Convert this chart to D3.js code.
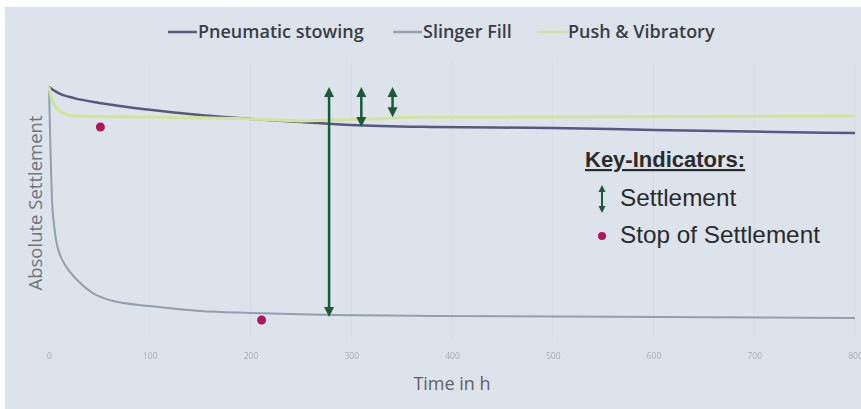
<!DOCTYPE html>
<html>
<head>
<meta charset="utf-8">
<script src="https://cdn.jsdelivr.net/npm/d3@7"></script>
<style>
  body { margin: 0; background: #fff; }
  svg { display: block; }
</style>
</head>
<body>
<div class="main"></div>
<script>
// series (time in h, settlement with start = 100)
const seriesNames = ["Pneumatic stowing", "Slinger Fill", "Push & Vibratory"];

const pneumaticHours = [0, 5, 10, 25, 50, 100, 150, 200, 250, 300, 380, 500, 600, 800];
const pneumaticValues = [100, 98.6, 97.5, 95.6, 93.7, 91.0, 88.9, 87.4, 86.2, 85.0, 84.2, 83.8, 83.0, 81.8];

const slingerHours = [0, 1, 2, 3, 5, 7, 11, 16, 28, 43, 60, 100, 150, 200, 280, 380, 800];
const slingerValues = [100, 83.0, 67.2, 55.3, 45.5, 39.5, 33.6, 29.6, 23.7, 18.6, 15.8, 13.4, 11.5, 10.7, 9.9, 9.5, 8.7];

const pushHours = [0, 3, 7, 14, 26, 100, 200, 250, 290, 380, 800];
const pushValues = [100, 94.9, 91.7, 89.7, 88.5, 88.1, 87.4, 86.6, 87.0, 88.1, 88.5];

const xTicks = [0, 100, 200, 300, 400, 500, 600, 700, 800];

// settlement arrows and stop-of-settlement dots
const arrowHours = [278, 310, 341];
const arrowTop = [100, 100, 100];
const arrowBottom = [9.1, 84.2, 88.0];

const stopHours = [51, 211];
const stopValues = [84.2, 7.9];

const keyTitle = "Key-Indicators:";
const keyLabels = ["Settlement", "Stop of Settlement"];

const W = 861, H = 409;
const colors = ["#575883", "#909fb2", "#d2e39a"];
const widths = [2.5, 2, 3];
const green = "#1c5a36";
const magenta = "#b3125f";

const svg = d3.select(".main").append("svg")
    .attr("width", W)
    .attr("height", H);

const defs = svg.append("defs");
defs.append("filter").attr("id", "soft")
    .append("feGaussianBlur").attr("stdDeviation", 0.5);
defs.append("filter").attr("id", "blur")
    .append("feGaussianBlur").attr("stdDeviation", 0.6);

// panel
svg.append("rect")
    .attr("x", 5).attr("y", 7)
    .attr("width", W - 5).attr("height", H - 7)
    .attr("fill", "#dce3ea");

const x = d3.scaleLinear().domain([0, 800]).range([49, 855]);
const y = d3.scaleLinear().domain([0, 100]).range([340, 87]);

// faint vertical grid
svg.append("g").selectAll("line")
    .data(xTicks.slice(1))
    .enter().append("line")
    .attr("x1", d => x(d)).attr("x2", d => x(d))
    .attr("y1", 60).attr("y2", 340)
    .attr("stroke", "#d5dde5")
    .attr("stroke-width", 1);

// x axis labels
const xAxis = d3.axisBottom(x).tickValues(xTicks).tickSize(0).tickPadding(0);
const gx = svg.append("g")
    .attr("transform", "translate(0,353)")
    .call(xAxis);
gx.select(".domain").remove();
gx.selectAll("text")
    .attr("font-family", "Open Sans, sans-serif")
    .attr("font-size", 8.5)
    .attr("fill", "#a4acb6")
    .attr("filter", "url(#blur)");

svg.append("text")
    .attr("x", 452).attr("y", 390)
    .attr("text-anchor", "middle")
    .attr("font-family", "Open Sans, sans-serif")
    .attr("font-size", 18)
    .attr("fill", "#5d6268")
    .text("Time in h");

svg.append("text")
    .attr("transform", "translate(42,203) rotate(-90)")
    .attr("text-anchor", "middle")
    .attr("font-family", "Open Sans, sans-serif")
    .attr("font-size", 18.5)
    .attr("fill", "#6f757c")
    .text("Absolute Settlement");

// lines
const line = d3.line()
    .x(d => x(d[0]))
    .y(d => y(d[1]))
    .curve(d3.curveMonotoneX);

const series = [
    d3.zip(pneumaticHours, pneumaticValues),
    d3.zip(slingerHours, slingerValues),
    d3.zip(pushHours, pushValues)
];

// draw slinger first, then pneumatic, push on top
[1, 0, 2].forEach(i => {
    svg.append("path")
        .datum(series[i])
        .attr("d", line)
        .attr("fill", "none")
        .attr("stroke", colors[i])
        .attr("stroke-width", widths[i])
        .attr("filter", "url(#soft)");
});

// legend at top
const legendX = [168, 393, 538];
const legend = svg.append("g").selectAll("g")
    .data(seriesNames)
    .enter().append("g")
    .attr("transform", (d, i) => "translate(" + legendX[i] + ",32)");

legend.append("line")
    .attr("x1", 0).attr("x2", 29)
    .attr("stroke", (d, i) => colors[i])
    .attr("stroke-width", 2.5);

legend.append("text")
    .attr("x", 30).attr("y", 6)
    .attr("font-family", "Open Sans, sans-serif")
    .attr("font-weight", 600)
    .attr("font-size", 18)
    .attr("fill", "#3a3d44")
    .text(d => d);

// double-headed arrow helper
const drawArrow = function (g, cx, y1, y2, head, stroke) {
    g.append("line")
        .attr("x1", cx).attr("x2", cx)
        .attr("y1", y1 + head * 0.8).attr("y2", y2 - head * 0.8)
        .attr("stroke", green)
        .attr("stroke-width", stroke);
    g.append("path")
        .attr("d", `M${cx},${y1} L${cx - head / 2},${y1 + head} L${cx + head / 2},${y1 + head} Z`)
        .attr("fill", green);
    g.append("path")
        .attr("d", `M${cx},${y2} L${cx - head / 2},${y2 - head} L${cx + head / 2},${y2 - head} Z`)
        .attr("fill", green);
};

const arrows = svg.append("g");
arrowHours.forEach((h, i) => {
    drawArrow(arrows, x(h), y(arrowTop[i]), y(arrowBottom[i]), 10, 2.5);
});

// stop dots
svg.append("g").selectAll("circle")
    .data(d3.zip(stopHours, stopValues))
    .enter().append("circle")
    .attr("cx", d => x(d[0]))
    .attr("cy", d => y(d[1]))
    .attr("r", 4.5)
    .attr("fill", magenta);

// key indicators box
const key = svg.append("g");
key.append("text")
    .attr("x", 585).attr("y", 167)
    .attr("font-family", "Liberation Sans, Arial, sans-serif")
    .attr("font-weight", "bold")
    .attr("font-size", 22)
    .attr("fill", "#2b2b2b")
    .attr("text-decoration", "underline")
    .text(keyTitle);

drawArrow(key, 602, 185, 213, 7, 2);
key.append("circle")
    .attr("cx", 602).attr("cy", 236)
    .attr("r", 4)
    .attr("fill", magenta);

key.selectAll("text.lbl")
    .data(keyLabels)
    .enter().append("text")
    .attr("class", "lbl")
    .attr("x", 620)
    .attr("y", (d, i) => 206 + i * 37)
    .attr("font-family", "Liberation Sans, Arial, sans-serif")
    .attr("font-size", 24.3)
    .attr("fill", "#2b2b2b")
    .text(d => d);
</script>
</body>
</html>
